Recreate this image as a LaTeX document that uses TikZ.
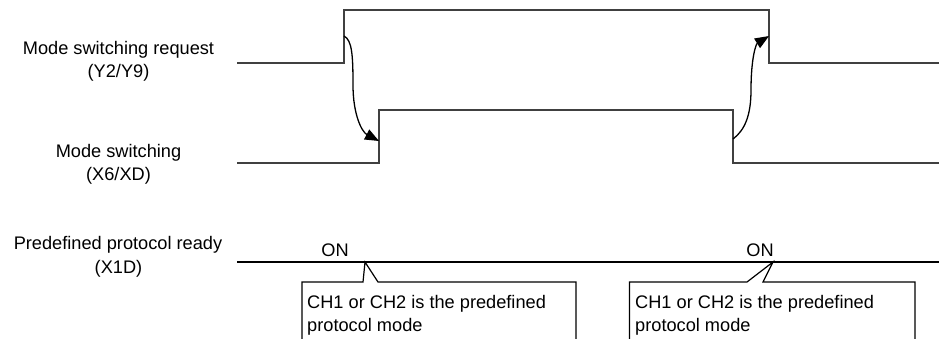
\documentclass[tikz,border=0pt]{standalone}
\usepackage{fontspec}
\setmainfont{Liberation Sans}
\usetikzlibrary{arrows.meta}
\begin{document}
\begin{tikzpicture}[x=1pt,y=-1pt,
  lbl/.style={anchor=base,inner sep=0pt,font=\fontsize{18.2}{22}\selectfont},
  txt/.style={anchor=base west,inner sep=0pt,font=\fontsize{18.2}{22}\selectfont},
  sig/.style={draw=black!75,line width=1.7pt},
  sigon/.style={draw=black,line width=2pt},
  arr/.style={draw=black,line width=1.3pt,-{Triangle[length=14pt,width=11pt]}},
  co/.style={draw=black,line width=1.2pt}]
\useasboundingbox (0,0) rectangle (939,338);
% labels
\node[lbl] (l1a) at (118.5,54) {Mode switching request};
\node[lbl] (l1b) at (118.5,77.5) {(Y2/Y9)};
\node[lbl] (l2a) at (118.5,157) {Mode switching};
\node[lbl] (l2b) at (118.5,180.5) {(X6/XD)};
\node[lbl] (l3a) at (118,249.5) {Predefined protocol ready};
\node[lbl] (l3b) at (118.5,273) {(X1D)};
% signal 1
\coordinate (a0) at (237,63);
\coordinate (a1) at (344,63);
\coordinate (a2) at (344,10);
\coordinate (a3) at (769,10);
\coordinate (a4) at (769,63);
\coordinate (a5) at (939,63);
\draw[sig] (a0) -- (a1) -- (a2) -- (a3) -- (a4) -- (a5);
% signal 2
\coordinate (b0) at (237,163);
\coordinate (b1) at (379,163);
\coordinate (b2) at (379,110);
\coordinate (b3) at (733,110);
\coordinate (b4) at (733,163);
\coordinate (b5) at (939,163);
\draw[sig] (b0) -- (b1) -- (b2) -- (b3) -- (b4) -- (b5);
% signal 3
\coordinate (c0) at (237,261.5);
\coordinate (c1) at (939,261.5);
\draw[sigon] (c0) -- (c1);
% arrows
\coordinate (r1s) at (344,36);
\coordinate (r1e) at (379,141);
\draw[arr] (r1s) .. controls (352,40) and (353,55) .. (353,85) .. controls (353,115) and (362,132) .. (r1e);
\coordinate (r2s) at (733,139);
\coordinate (r2e) at (769,36);
\draw[arr] (r2s) .. controls (745,130) and (751,115) .. (751,90) .. controls (751,58) and (756,44) .. (r2e);
% ON
\node[lbl] (on1) at (335,256.5) {ON};
\node[lbl] (on2) at (760,256.5) {ON};
% callouts
\coordinate (p1) at (365,262);
\coordinate (p2) at (773,262);
\draw[co] (302,339) -- (302,282) -- (363,282) -- (p1) -- (378,282) -- (576,282) -- (576,339);
\draw[co] (629.5,339) -- (629.5,282) -- (747,282) -- (p2) -- (763,282) -- (915,282) -- (915,339);
\node[txt] (t1a) at (307,308) {CH1 or CH2 is the predefined};
\node[txt] (t1b) at (307,331.5) {protocol mode};
\node[txt] (t2a) at (635,308) {CH1 or CH2 is the predefined};
\node[txt] (t2b) at (635,331.5) {protocol mode};
\end{tikzpicture}
\end{document}
